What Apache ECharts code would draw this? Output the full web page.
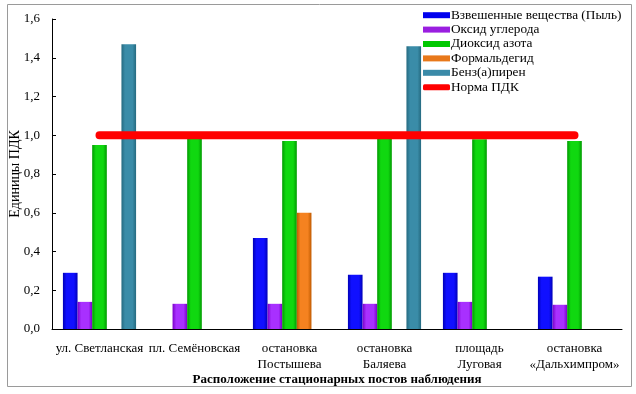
<!DOCTYPE html>
<html><head><meta charset="utf-8">
<script src="https://cdn.jsdelivr.net/npm/echarts@6/dist/echarts.min.js"></script>
<style>html,body{margin:0;padding:0;background:#fff}#c{width:636px;height:394px}</style>
</head><body><div id="c"></div>
<script>
const categories = ['ул. Светланская', 'пл. Семёновская', 'остановка\nПостышева', 'остановка\nБаляева', 'площадь\nЛуговая', 'остановка\n«Дальхимпром»'];
const dust = [0.29, null, 0.47, 0.28, 0.29, 0.27];
const coOxide = [0.14, 0.13, 0.13, 0.13, 0.14, 0.125];
const no2 = [0.95, 0.99, 0.97, 0.99, 0.98, 0.97];
const formaldehyde = [null, null, 0.60, null, null, null];
const benzpyrene = [1.47, null, null, 1.46, null, null];
const norm = [1, 1, 1, 1, 1, 1];
const yTicks = ['0,0','0,2','0,4','0,6','0,8','1,0','1,2','1,4','1,6'];

const FONT = '"Liberation Serif", "Times New Roman", serif';
function grad(dark, light) {
  return new echarts.graphic.LinearGradient(0, 0, 1, 0, [
    {offset: 0, color: dark}, {offset: 0.25, color: light}, {offset: 0.75, color: light}, {offset: 1, color: dark}
  ]);
}
function bar(name, data, dark, light) {
  return {name, type: 'bar', data, barGap: '0%', barCategoryGap: '23%',
    itemStyle: {color: grad(dark, light)}};
}
const chart = echarts.init(document.getElementById('c'), null, {renderer: 'canvas'});
chart.setOption({
  animation: false,
  backgroundColor: '#fff',
  graphic: [{type: 'rect', shape: {x: 7.5, y: 4.5, width: 624, height: 382}, style: {fill: 'none', stroke: '#9a9a9a', lineWidth: 1}, z: -1}],
  grid: {left: 52, top: 19, width: 570, height: 310, containLabel: false, outerBoundsMode: 'none'},
  legend: {
    orient: 'vertical', left: 418, top: 3, itemWidth: 27, itemHeight: 6, itemGap: 0,
    textStyle: {fontFamily: FONT, fontSize: 13.3, lineHeight: 14.4, color: '#000', padding: [0,0,0,-4]},
    data: [
      {name: 'Взвешенные вещества (Пыль)', icon: 'rect', itemStyle: {color: '#0000ee'}},
      {name: 'Оксид углерода', icon: 'rect', itemStyle: {color: '#9a1ee0'}},
      {name: 'Диоксид азота', icon: 'rect', itemStyle: {color: '#00c800'}},
      {name: 'Формальдегид', icon: 'rect', itemStyle: {color: '#e8781a'}},
      {name: 'Бенз(а)пирен', icon: 'rect', itemStyle: {color: '#3a8aa8'}},
      {name: 'Норма ПДК', icon: 'roundRect', itemStyle: {color: '#ff0000'}}
    ]
  },
  xAxis: {
    type: 'category', data: categories,
    name: 'Расположение стационарных постов наблюдения', nameLocation: 'middle', nameGap: 44,
    nameMoveOverlap: false,
    nameTextStyle: {fontFamily: FONT, fontSize: 13, fontWeight: 'bold', color: '#000'},
    axisLine: {lineStyle: {color: '#000', width: 1}},
    axisTick: {inside: true, length: 4, lineStyle: {color: '#000'}},
    axisLabel: {fontFamily: FONT, fontSize: 13, color: '#000', margin: 12, lineHeight: 16, interval: 0}
  },
  yAxis: {
    type: 'value', min: 0, max: 1.6, interval: 0.2,
    name: 'Единицы ПДК', nameLocation: 'middle', nameGap: 30, nameRotate: 90,
    nameMoveOverlap: false,
    nameTextStyle: {fontFamily: FONT, fontSize: 14, color: '#000'},
    axisLine: {show: true, lineStyle: {color: '#000', width: 1}},
    axisTick: {show: true, inside: true, length: 4, lineStyle: {color: '#000'}},
    splitLine: {show: false},
    axisLabel: {fontFamily: FONT, fontSize: 13, color: '#000', margin: 12,
      formatter: v => yTicks[Math.round(v / 0.2)]}
  },
  series: [
    bar('Взвешенные вещества (Пыль)', dust, '#0000b8', '#1010ff'),
    bar('Оксид углерода', coOxide, '#7a00c8', '#a830ff'),
    bar('Диоксид азота', no2, '#009a00', '#10d810'),
    bar('Формальдегид', formaldehyde, '#c05a00', '#f58220'),
    bar('Бенз(а)пирен', benzpyrene, '#256a80', '#3a8ca8'),
    {name: 'Норма ПДК', type: 'line', data: norm, symbol: 'none', z: 5,
      lineStyle: {color: '#ff0000', width: 8, cap: 'round'}, itemStyle: {color: '#ff0000'}}
  ]
});
</script></body></html>
